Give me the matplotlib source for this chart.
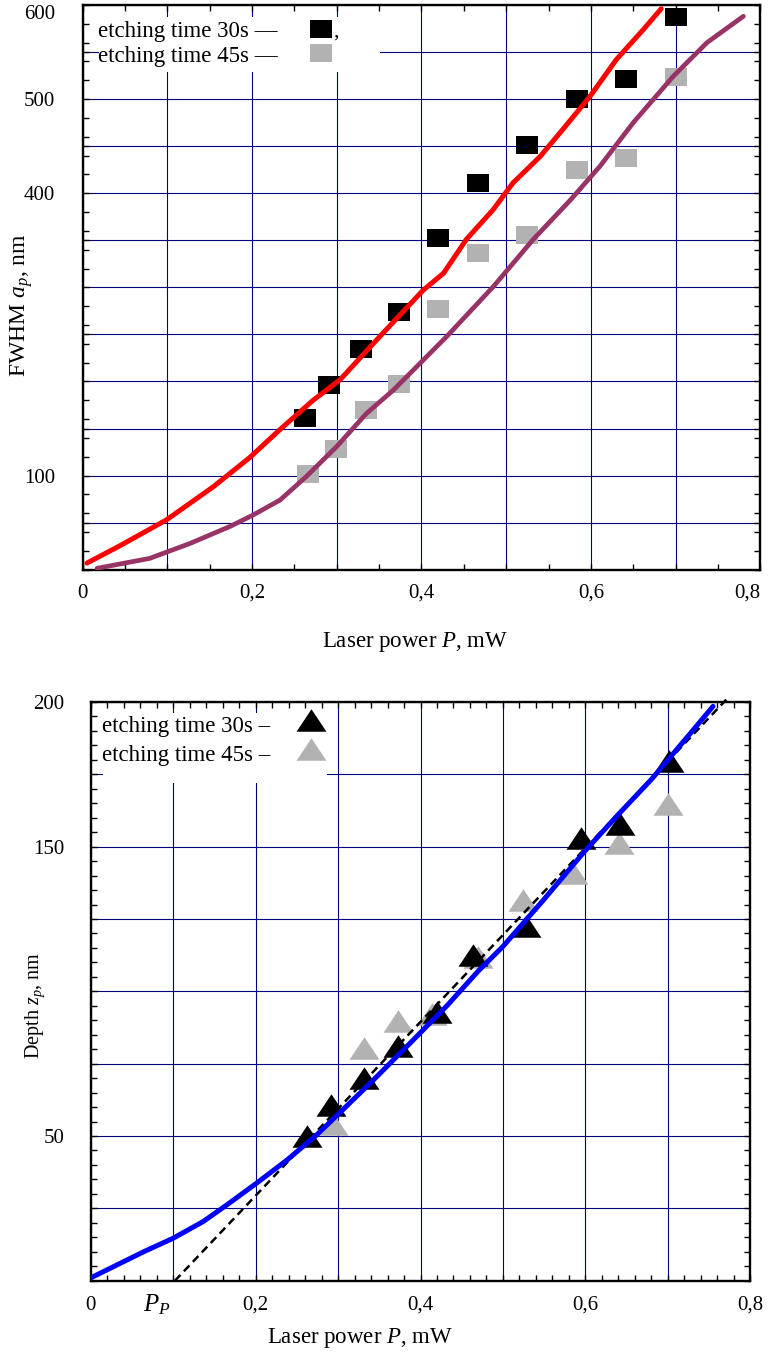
import numpy as np
import matplotlib
matplotlib.use("Agg")
import matplotlib.pyplot as plt
from matplotlib.patches import Rectangle
from matplotlib.ticker import MultipleLocator

W, H, DPI = 768, 1357, 100

# ---- FWHM vs laser power (upper panel) ----
p_fwhm_30 = [0.262, 0.291, 0.329, 0.374, 0.420, 0.467, 0.524, 0.584, 0.641, 0.700]
fwhm_30 = [161, 196, 234, 274, 352, 411, 451, 500, 521, 587]
p_fwhm_45 = [0.266, 0.299, 0.335, 0.373, 0.420, 0.467, 0.525, 0.584, 0.641, 0.700]
fwhm_45 = [102, 128, 170, 197, 277, 337, 356, 425, 437, 524]

p_calc_30 = [0.005, 0.044, 0.099, 0.154, 0.197, 0.233, 0.272, 0.304, 0.351, 0.402,
             0.426, 0.453, 0.485, 0.508, 0.540, 0.567, 0.599, 0.630, 0.662, 0.683]
fwhm_calc_30 = [7, 25.5, 53, 88, 119, 149, 180, 202, 248, 297,
                315, 351, 383, 411, 439, 468, 503, 542, 574, 596]
p_calc_45 = [0.017, 0.079, 0.127, 0.174, 0.201, 0.233, 0.264, 0.300, 0.335, 0.367,
             0.430, 0.485, 0.532, 0.576, 0.611, 0.650, 0.697, 0.737, 0.780]
fwhm_calc_45 = [1.5, 12, 28, 46, 58, 74, 99, 131, 166, 191,
                248, 301, 351, 393, 429, 475, 524, 560, 588]

fwhm_ticks = [0, 50, 100, 150, 200, 250, 300, 350, 400, 450, 500, 550, 600]
fwhm_labels = ["", "", "100", "", "", "", "", "", "400", "", "500", "", "600"]

# ---- Depth vs laser power (lower panel) ----
p_depth_30 = [0.262, 0.291, 0.331, 0.373, 0.420, 0.464, 0.528, 0.595, 0.642, 0.701]
depth_30 = [50.1, 60.6, 70.1, 81.2, 92.9, 112.6, 122.6, 153.0, 157.9, 179.5]
p_depth_45 = [0.294, 0.332, 0.373, 0.414, 0.470, 0.524, 0.585, 0.641, 0.700]
depth_45 = [54.2, 80.4, 89.7, 92.0, 112.0, 131.7, 141.0, 151.1, 164.6]

p_calc_depth = [0.0, 0.027, 0.064, 0.100, 0.136, 0.165, 0.201, 0.238, 0.274, 0.300,
                0.343, 0.387, 0.432, 0.470, 0.500, 0.549, 0.598, 0.638, 0.681, 0.727, 0.755]
depth_calc = [1.0, 4.8, 10.0, 14.7, 20.4, 26.2, 33.7, 41.7, 50.4, 57.5,
              69.4, 82.0, 95.0, 107.0, 115.5, 131.5, 148.0, 160.5, 173.5, 189.0, 198.5]

# linear asymptote crossing the power axis at the threshold P_P
p_asym = [0.102, 0.775]
depth_asym = [0.0, 202.0]

depth_ticks = [0, 25, 50, 75, 100, 125, 150, 175, 200]
depth_labels = ["", "", "50", "", "", "", "150", "", "200"]

p_ticks = [0, 0.1, 0.2, 0.3, 0.4, 0.5, 0.6, 0.7, 0.8]
p_labels = ["0", "", "0,2", "", "0,4", "", "0,6", "", "0,8"]

# ---- style ----
plt.rcParams["font.family"] = ["Liberation Serif", "DejaVu Serif"]
plt.rcParams["mathtext.fontset"] = "custom"
plt.rcParams["mathtext.rm"] = "Liberation Serif"
plt.rcParams["mathtext.it"] = "Liberation Serif:italic"

GRID = "#000080"
GREY = "#b2b2b2"
RECT = [(-1, -0.8), (1, -0.8), (1, 0.8), (-1, 0.8), (-1, -0.8)]
TRI = [(0, 0.75), (-1, -0.75), (1, -0.75), (0, 0.75)]

fig = plt.figure(figsize=(W / DPI, H / DPI), dpi=DPI)


def axes_px(l, t, r, b):
    ax = fig.add_axes([l / W, 1 - b / H, (r - l) / W, (b - t) / H])
    ax._px = (l, t, r, b)
    return ax


def to_axes(ax, px, py):
    l, t, r, b = ax._px
    return (px - l) / (r - l), (b - py) / (b - t)


def ftext(px, py, s, **kw):
    return fig.text(px / W, 1 - py / H, s, **kw)


def style_axes(ax, xminor, yminor, ylim, yticks, ylabels, ypad, xpad):
    ax.set_xlim(0, 0.8)
    ax.set_ylim(*ylim)
    ax.set_axisbelow(True)
    ax.grid(True, which="major", color=GRID, lw=0.8)
    ax.set_xticks(p_ticks, p_labels)
    ax.set_yticks(yticks, ylabels)
    ax.xaxis.set_minor_locator(MultipleLocator(xminor))
    ax.yaxis.set_minor_locator(MultipleLocator(yminor))
    ax.tick_params(which="both", direction="in", top=True, right=True,
                   length=4, width=1, color="black", labelsize=15)
    ax.tick_params(axis="x", pad=xpad)
    ax.tick_params(axis="y", pad=ypad)
    for sp in ax.spines.values():
        sp.set_linewidth(1.7)


# ================= upper panel =================
ax1 = axes_px(82.7, 5, 760.3, 569.7)
style_axes(ax1, 0.05, 20, (0, 600), fwhm_ticks, fwhm_labels, ypad=20, xpad=10)
ax1.get_yticklabels()[-1].set_va("top")
ax1.get_xticklabels()[-1].set_ha("right")

ax1.plot(p_fwhm_30, fwhm_30, ls="none", marker=RECT, ms=16.5, mew=0,
         color="black", zorder=2)
ax1.plot(p_fwhm_45, fwhm_45, ls="none", marker=RECT, ms=16.5, mew=0,
         color=GREY, zorder=2)
ax1.plot(p_calc_30, fwhm_calc_30, color="#ff0000", lw=3.6,
         solid_capstyle="round", zorder=3)
ax1.plot(p_calc_45, fwhm_calc_45, color="#993366", lw=3.4,
         solid_capstyle="round", zorder=3)

# legend block
x0, y0 = to_axes(ax1, 99, 72)
x1, y1 = to_axes(ax1, 380, 17)
ax1.add_patch(Rectangle((x0, y0), x1 - x0, y1 - y0, transform=ax1.transAxes,
                        facecolor="white", edgecolor="none", zorder=1.5))
for py, col in [(29.5, "black"), (53.5, GREY)]:
    mx, my = to_axes(ax1, 321, py)
    ax1.plot([mx], [my], transform=ax1.transAxes, ls="none", marker=RECT,
             ms=16.5, mew=0, color=col, clip_on=False, zorder=4)
ftext(98, 37, "etching time 30s \u2014", fontsize=16.5, ha="left", va="baseline")
ftext(98, 62, "etching time 45s \u2014", fontsize=16.5, ha="left", va="baseline")
ftext(333, 37, ",", fontsize=16, ha="left", va="baseline")

ftext(415, 642, "Laser power $P$, mW", fontsize=16.5, ha="center", va="center")
ftext(22, 305, "FWHM $a_p$, nm", fontsize=17, ha="center", va="center",
      rotation=90)

# ================= lower panel =================
ax2 = axes_px(90.9, 702, 750.1, 1280.7)
style_axes(ax2, 0.02, 5, (0, 200), depth_ticks, depth_labels, ypad=19, xpad=11)

ax2.plot(p_depth_45, depth_45, ls="none", marker=TRI, ms=21.6, mew=0,
         color=GREY, zorder=2)
ax2.plot(p_depth_30, depth_30, ls="none", marker=TRI, ms=21.6, mew=0,
         color="black", zorder=2.1)
ax2.plot(p_asym, depth_asym, color="black", lw=1.8, dashes=(3.2, 2.0),
         clip_on=False, zorder=3)
ax2.plot(p_calc_depth, depth_calc, color="#0000ff", lw=3.6,
         solid_capstyle="round", zorder=3.5)

x0, y0 = to_axes(ax2, 103, 783)
x1, y1 = to_axes(ax2, 327, 713)
ax2.add_patch(Rectangle((x0, y0), x1 - x0, y1 - y0, transform=ax2.transAxes,
                        facecolor="white", edgecolor="none", zorder=1.5))
for py, col in [(720, "black"), (749, GREY)]:
    mx, my = to_axes(ax2, 310.5, py)
    ax2.plot([mx], [my], transform=ax2.transAxes, ls="none", marker=TRI,
             ms=21.6, mew=0, color=col, clip_on=False, zorder=4)
ftext(102, 732, "etching time 30s \u2013", fontsize=16.5, ha="left", va="baseline")
ftext(102, 761, "etching time 45s \u2013", fontsize=16.5, ha="left", va="baseline")

ftext(157, 1305, "$P_P$", fontsize=18, ha="center", va="center")
ftext(360, 1338, "Laser power $P$, mW", fontsize=16.5, ha="center", va="center")
ftext(35, 1005, "Depth $z_p$, nm", fontsize=14.5, ha="center", va="center",
      rotation=90)

fig.savefig("out.png", dpi=DPI)
